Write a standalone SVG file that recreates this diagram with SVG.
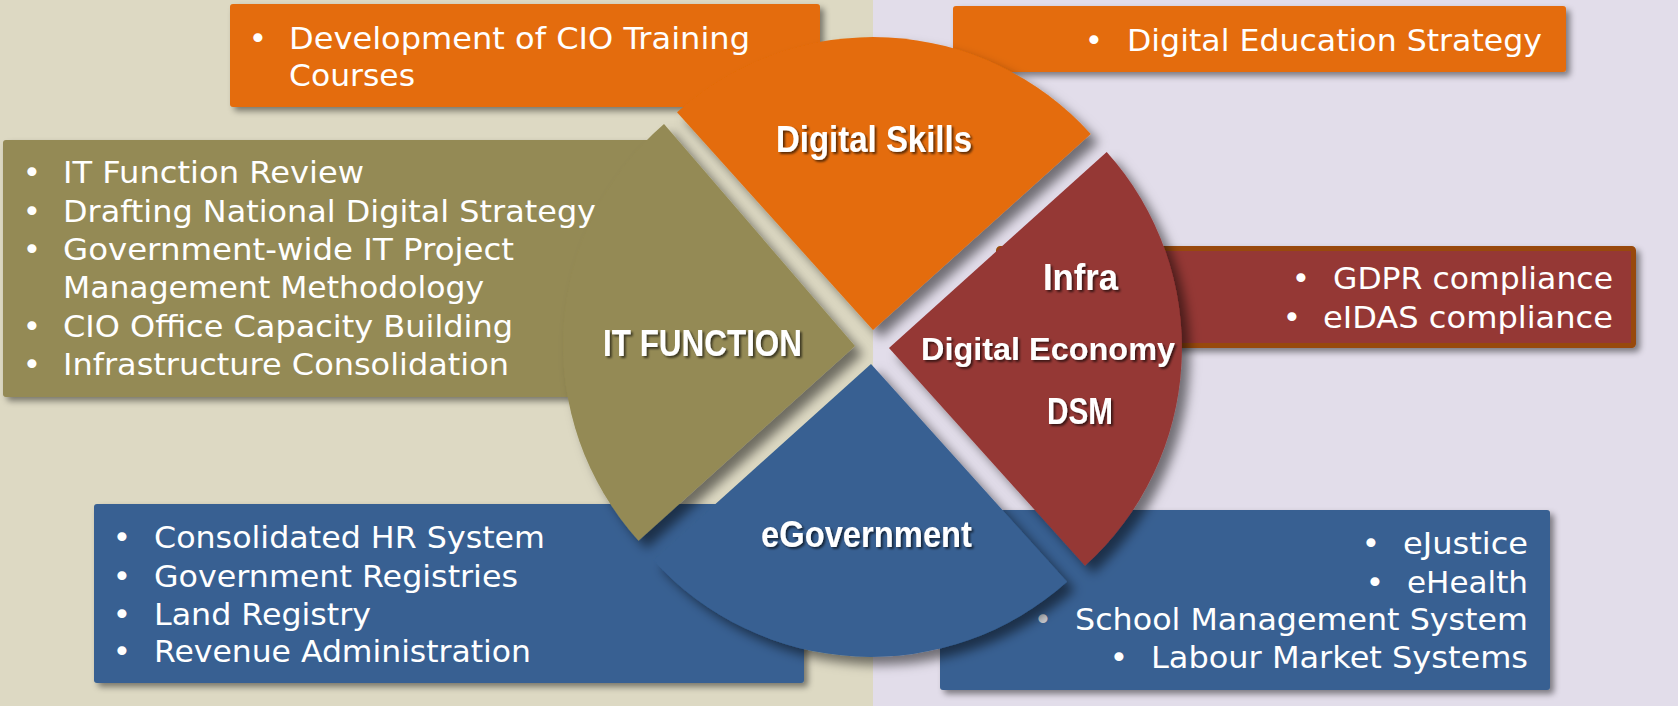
<svg xmlns="http://www.w3.org/2000/svg" width="1678" height="706" viewBox="0 0 1678 706">
<style>
.bt{font-family:"DejaVu Sans","Verdana","Liberation Sans",sans-serif;font-size:31px;fill:#ffffff}
.bu{font-family:"DejaVu Sans","Liberation Sans",sans-serif;font-size:31px;fill:#ffffff;text-anchor:middle}
.lb{font-family:"Liberation Sans","Arial",sans-serif;font-weight:bold;font-size:37px;fill:#ffffff}
</style>
<defs>
<filter id="bs" x="-10%" y="-20%" width="130%" height="150%">
<feDropShadow dx="4" dy="4" stdDeviation="3" flood-color="#000" flood-opacity="0.45"/>
</filter>
<filter id="ss" x="-20%" y="-20%" width="150%" height="150%">
<feDropShadow dx="8" dy="8" stdDeviation="5.5" flood-color="#000" flood-opacity="0.5"/>
</filter>
<filter id="ts" x="-10%" y="-30%" width="130%" height="160%">
<feDropShadow dx="2" dy="2" stdDeviation="1.2" flood-color="#000" flood-opacity="0.6"/>
</filter>
</defs>
<rect x="0" y="0" width="873" height="706" fill="#DDD9C3"/>
<rect x="873" y="0" width="805" height="706" fill="#E2DDEA"/>

<g id="box-skills-left">
<rect x="230" y="4" width="590" height="103" rx="3" fill="#E46C0A" filter="url(#bs)"/>
<text class="bu" x="258" y="48.5">•</text>
<text class="bt" x="289" y="48.5" textLength="461" lengthAdjust="spacingAndGlyphs">Development of CIO Training</text>
<text class="bt" x="289" y="86" textLength="126" lengthAdjust="spacingAndGlyphs">Courses</text>
</g>
<g id="box-skills-right">
<rect x="953" y="6" width="613" height="66" rx="3" fill="#E46C0A" filter="url(#bs)"/>
<text class="bu" x="1094" y="51">•</text>
<text class="bt" x="1127" y="51" textLength="415" lengthAdjust="spacingAndGlyphs">Digital Education Strategy</text>
</g>
<g id="box-it">
<rect x="3" y="140" width="647" height="257" rx="3" fill="#948A54" filter="url(#bs)"/>
<text class="bu" x="32" y="183">•</text>
<text class="bt" x="63" y="183" textLength="301" lengthAdjust="spacingAndGlyphs">IT Function Review</text>
<text class="bu" x="32" y="222">•</text>
<text class="bt" x="63" y="222" textLength="533" lengthAdjust="spacingAndGlyphs">Drafting National Digital Strategy</text>
<text class="bu" x="32" y="260">•</text>
<text class="bt" x="63" y="260" textLength="451" lengthAdjust="spacingAndGlyphs">Government-wide IT Project</text>
<text class="bt" x="63" y="298" textLength="421" lengthAdjust="spacingAndGlyphs">Management Methodology</text>
<text class="bu" x="32" y="337">•</text>
<text class="bt" x="63" y="337" textLength="450" lengthAdjust="spacingAndGlyphs">CIO Office Capacity Building</text>
<text class="bu" x="32" y="375">•</text>
<text class="bt" x="63" y="375" textLength="446" lengthAdjust="spacingAndGlyphs">Infrastructure Consolidation</text>
</g>
<g id="box-economy">
<rect x="998.5" y="248.5" width="635" height="97" rx="2" fill="#953735" stroke="#984807" stroke-width="5" filter="url(#bs)"/>
<text class="bu" x="1301" y="289">•</text>
<text class="bt" x="1333" y="289" textLength="280" lengthAdjust="spacingAndGlyphs">GDPR compliance</text>
<text class="bu" x="1292" y="328">•</text>
<text class="bt" x="1323" y="328" textLength="290" lengthAdjust="spacingAndGlyphs">eIDAS compliance</text>
</g>
<g id="box-egov-left">
<rect x="94" y="504" width="710" height="179" rx="3" fill="#376092" filter="url(#bs)"/>
<text class="bu" x="122" y="548">•</text>
<text class="bt" x="154" y="548" textLength="391" lengthAdjust="spacingAndGlyphs">Consolidated HR System</text>
<text class="bu" x="122" y="587">•</text>
<text class="bt" x="154" y="587" textLength="364" lengthAdjust="spacingAndGlyphs">Government Registries</text>
<text class="bu" x="122" y="625">•</text>
<text class="bt" x="154" y="625" textLength="217" lengthAdjust="spacingAndGlyphs">Land Registry</text>
<text class="bu" x="122" y="662">•</text>
<text class="bt" x="154" y="662" textLength="377" lengthAdjust="spacingAndGlyphs">Revenue Administration</text>
</g>
<g id="box-egov-right">
<rect x="940" y="510" width="610" height="180" rx="3" fill="#376092" filter="url(#bs)"/>
<text class="bu" x="1371" y="554">•</text>
<text class="bt" x="1403" y="554" textLength="125" lengthAdjust="spacingAndGlyphs">eJustice</text>
<text class="bu" x="1375" y="593">•</text>
<text class="bt" x="1407" y="593" textLength="121" lengthAdjust="spacingAndGlyphs">eHealth</text>
<text class="bu" x="1043" y="630" style="fill:#c9cbd0">•</text>
<text class="bt" x="1075" y="630" textLength="453" lengthAdjust="spacingAndGlyphs">School Management System</text>
<text class="bu" x="1119" y="668">•</text>
<text class="bt" x="1151" y="668" textLength="377" lengthAdjust="spacingAndGlyphs">Labour Market Systems</text>
</g>

<g id="sector-digital-skills">
<path d="M873,330 L677,112.3 A293,293 0 0 1 1090.7,134 Z" fill="#E46C0A" filter="url(#ss)"/>
<text class="lb" x="776" y="152" textLength="196" lengthAdjust="spacingAndGlyphs" filter="url(#ts)">Digital Skills</text>
</g>
<g id="sector-digital-economy">
<path d="M889,348 L1106.7,152 A293,293 0 0 1 1085,565.7 Z" fill="#953735" filter="url(#ss)"/>
<text class="lb" x="1043" y="290" textLength="75" lengthAdjust="spacingAndGlyphs" filter="url(#ts)">Infra</text>
<text class="lb" x="921" y="360" style="font-size:32px" textLength="254" lengthAdjust="spacingAndGlyphs" filter="url(#ts)">Digital Economy</text>
<text class="lb" x="1047" y="424" textLength="66" lengthAdjust="spacingAndGlyphs" filter="url(#ts)">DSM</text>
</g>
<g id="sector-egovernment">
<path d="M871,364 L1067,581.7 A293,293 0 0 1 653.3,560 Z" fill="#376092" filter="url(#ss)"/>
<text class="lb" x="761" y="547" textLength="211" lengthAdjust="spacingAndGlyphs" filter="url(#ts)">eGovernment</text>
</g>
<g id="sector-it-function">
<path d="M855,346 L638.5,540.7 A292,292 0 0 1 664,124 Z" fill="#948A54" filter="url(#ss)"/>
<text class="lb" x="603" y="356" textLength="199" lengthAdjust="spacingAndGlyphs" filter="url(#ts)">IT FUNCTION</text>
</g>
<g id="connectors"/>
</svg>
